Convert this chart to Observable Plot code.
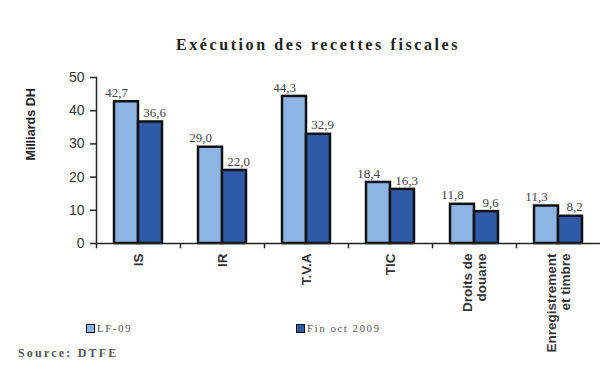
<!DOCTYPE html>
<html><head><meta charset="utf-8">
<script src="https://cdn.jsdelivr.net/npm/d3@7"></script>
<script src="https://cdn.jsdelivr.net/npm/@observablehq/plot@0.6"></script>
<style>
body{margin:0;background:#fff;}
#wrap{position:relative;width:600px;height:372px;overflow:hidden;}
#title{position:absolute;top:36px;left:0;width:636px;text-align:center;font:bold 16px "Liberation Serif",serif;letter-spacing:2.6px;color:#222;}
.leg{position:absolute;top:322px;font:11px "Liberation Serif",serif;color:#555;letter-spacing:1.5px;display:flex;align-items:center;}
.sw{display:inline-block;width:7px;height:7px;border:1.5px solid #111;margin-right:2px;}
#src{position:absolute;top:346px;left:18px;font:bold 12px "Liberation Serif",serif;color:#555;letter-spacing:2.2px;}
</style></head>
<body><div id="wrap"><div id="title">Exécution des recettes fiscales</div>
<div class="leg" style="left:86px"><span class="sw" style="background:#8db4e2"></span>LF-09</div>
<div class="leg" style="left:296px"><span class="sw" style="background:#2f5aa8"></span>Fin oct 2009</div>
<div id="src">Source: DTFE</div>
</div>
<script>
const categories = ["IS", "IR", "T.V.A", "TIC", "Droits de\ndouane", "Enregistrement\net timbre"];
const lf09 = [42.7, 29.0, 44.3, 18.4, 11.8, 11.3];
const finOct = [36.6, 22.0, 32.9, 16.3, 9.6, 8.2];
const yTicks = [0, 10, 20, 30, 40, 50];
const fmt = v => v.toFixed(1).replace(".", ",");

const dLF = categories.map((c, i) => ({cat: c, v: lf09[i]}));
const dFin = categories.map((c, i) => ({cat: c, v: finOct[i]}));

const chart = Plot.plot({
  width: 600, height: 372,
  marginTop: 77, marginBottom: 129, marginLeft: 96, marginRight: 0,
  x: {domain: categories, padding: 0, axis: null},
  y: {domain: [0, 50], axis: null},
  style: {fontFamily: "Liberation Sans, Arial, sans-serif", color: "#333", background: "transparent"},
  marks: [
    Plot.barY(dLF, {x: "cat", y: "v", fill: "#8db4e2", stroke: "#111", strokeWidth: 2.5, insetLeft: 18, insetRight: 42}),
    Plot.barY(dFin, {x: "cat", y: "v", fill: "#2f5aa8", stroke: "#111", strokeWidth: 2.5, insetLeft: 42, insetRight: 18}),
    Plot.text(dLF, {x: "cat", y: "v", text: d => fmt(d.v), dx: -22, dy: -9, fontFamily: "Liberation Serif, serif", fontSize: 13, fill: "#444", style: "letter-spacing:3.5px"}),
    Plot.text(dFin, {x: "cat", y: "v", text: d => fmt(d.v), dx: 16, dy: -9, fontFamily: "Liberation Serif, serif", fontSize: 13, fill: "#444", style: "letter-spacing:3.5px"}),
    Plot.ruleY([0], {stroke: "#222", strokeWidth: 1.5}),
    Plot.frame({anchor: "left", stroke: "#222", strokeWidth: 1.5}),
    Plot.ruleX(categories, {x: d => d, dx: -42, y1: 0, y2: -1.6, stroke: "#222", strokeWidth: 1.5}),
    Plot.axisY(yTicks, {tickSize: 6, tickPadding: 6, fontSize: 14, fill: "#333", stroke: "#222", strokeWidth: 1.5, label: null}),
    Plot.axisX({tickRotate: -90, tickSize: 0, tickPadding: 10, fontSize: 13.5, fontWeight: "bold", fill: "#333", label: null, fontFamily: "Liberation Sans Narrow, Liberation Sans, sans-serif"}),
    Plot.text(["Milliards DH"], {frameAnchor: "left", dx: -66, rotate: -90, fontSize: 12.5, fontWeight: "bold", fill: "#222", fontFamily: "Liberation Sans Narrow, Liberation Sans, sans-serif"})
  ]
});
document.getElementById("wrap").prepend(chart);
chart.style.position = "absolute"; chart.style.left = "0"; chart.style.top = "0";
</script></body></html>
